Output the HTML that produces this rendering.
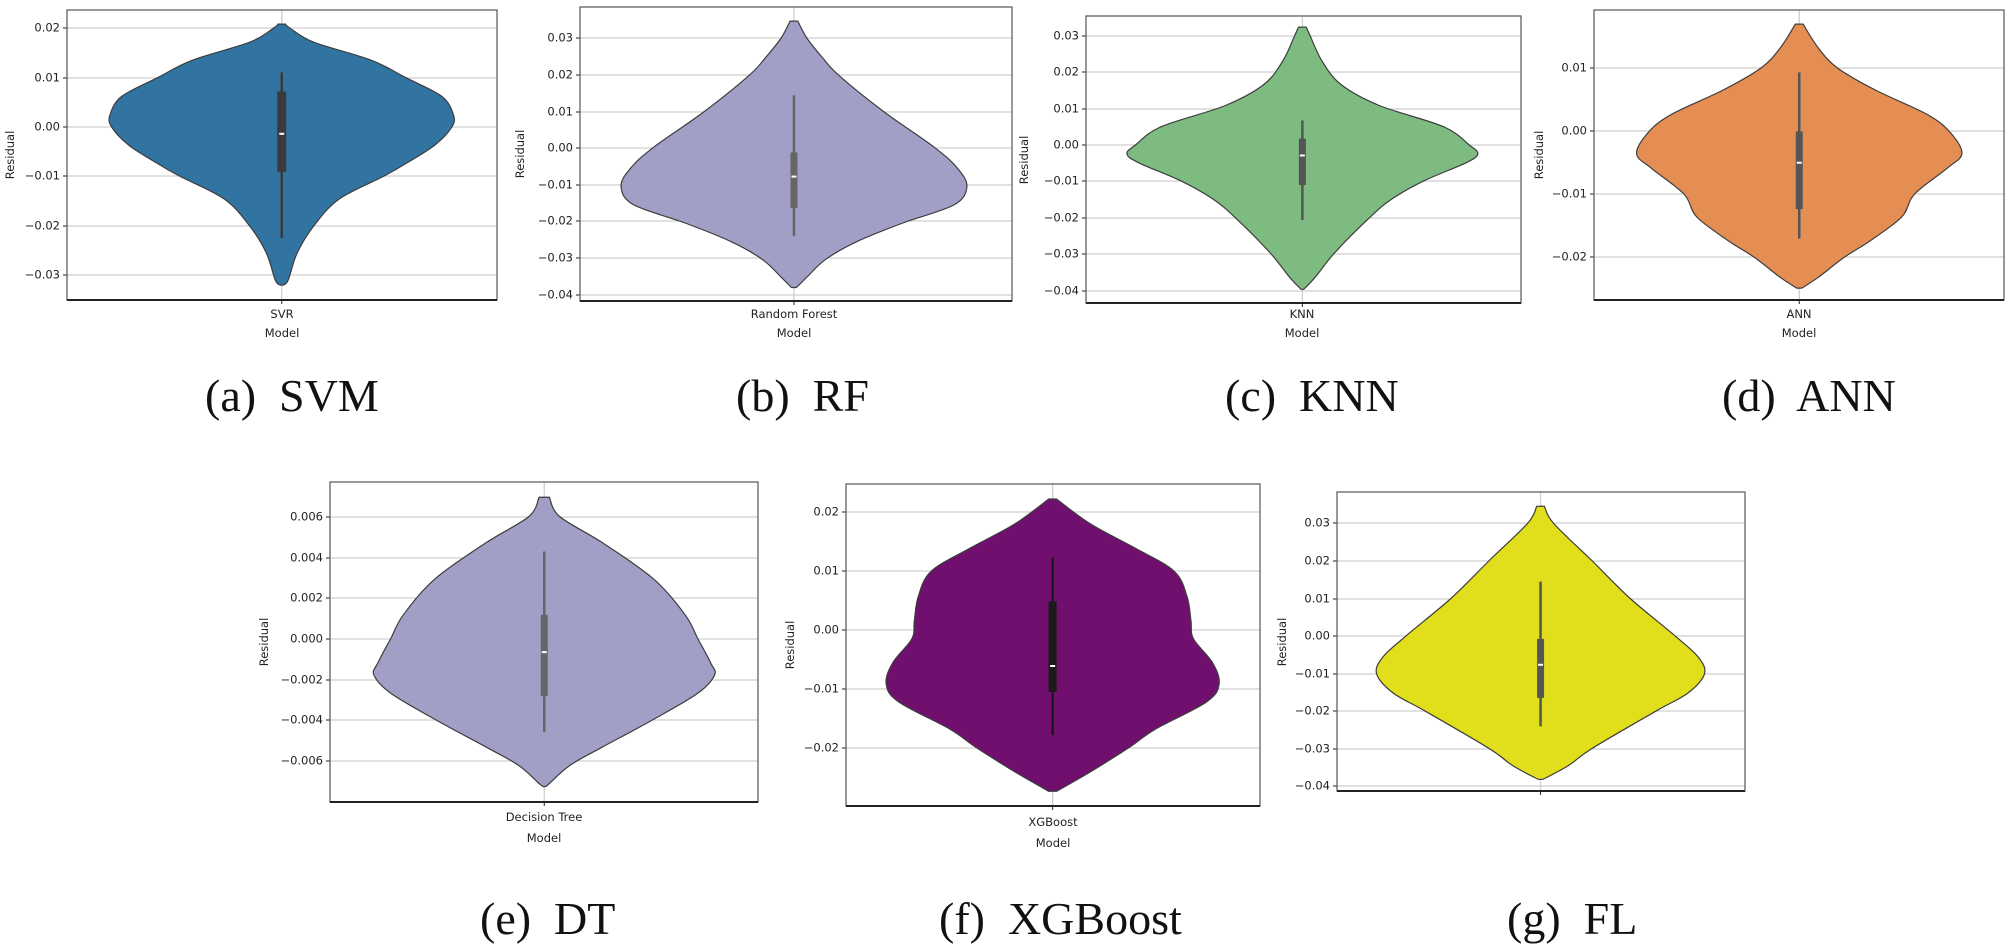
<!DOCTYPE html>
<html><head><meta charset="utf-8">
<style>
html,body{margin:0;padding:0;background:#fff;}
svg{display:block;}
.t{font-family:"DejaVu Sans","Liberation Sans",sans-serif;font-size:11.5px;fill:#222;}
.cap{font-family:"Liberation Serif",serif;font-size:46px;fill:#111;}
</style></head>
<body>
<svg id="s" width="2008" height="945" viewBox="0 0 2008 945" xmlns="http://www.w3.org/2000/svg">
<g id="g"></g>
<g class="t" text-anchor="end" dominant-baseline="middle">
<text x="60" y="28">0.02</text><text x="60" y="78">0.01</text><text x="60" y="127">0.00</text><text x="60" y="176">−0.01</text><text x="60" y="226">−0.02</text><text x="60" y="275">−0.03</text>
<text x="573" y="38">0.03</text><text x="573" y="75">0.02</text><text x="573" y="112">0.01</text><text x="573" y="148">0.00</text><text x="573" y="185">−0.01</text><text x="573" y="221">−0.02</text><text x="573" y="258">−0.03</text><text x="573" y="295">−0.04</text>
<text x="1079" y="36">0.03</text><text x="1079" y="72">0.02</text><text x="1079" y="109">0.01</text><text x="1079" y="145">0.00</text><text x="1079" y="181">−0.01</text><text x="1079" y="218">−0.02</text><text x="1079" y="254">−0.03</text><text x="1079" y="291">−0.04</text>
<text x="1587" y="68">0.01</text><text x="1587" y="131">0.00</text><text x="1587" y="194">−0.01</text><text x="1587" y="257">−0.02</text>
<text x="323" y="517">0.006</text><text x="323" y="558">0.004</text><text x="323" y="598">0.002</text><text x="323" y="639">0.000</text><text x="323" y="680">−0.002</text><text x="323" y="720">−0.004</text><text x="323" y="761">−0.006</text>
<text x="839" y="512">0.02</text><text x="839" y="571">0.01</text><text x="839" y="630">0.00</text><text x="839" y="689">−0.01</text><text x="839" y="748">−0.02</text>
<text x="1330" y="523">0.03</text><text x="1330" y="561">0.02</text><text x="1330" y="599">0.01</text><text x="1330" y="636">0.00</text><text x="1330" y="674">−0.01</text><text x="1330" y="711">−0.02</text><text x="1330" y="749">−0.03</text><text x="1330" y="786">−0.04</text>
</g>
<g class="t" text-anchor="middle">
<text transform="translate(14,155) rotate(-90)">Residual</text>
<text transform="translate(524,154) rotate(-90)">Residual</text>
<text transform="translate(1028,160) rotate(-90)">Residual</text>
<text transform="translate(1543,155) rotate(-90)">Residual</text>
<text transform="translate(268,642) rotate(-90)">Residual</text>
<text transform="translate(794,645) rotate(-90)">Residual</text>
<text transform="translate(1286,642) rotate(-90)">Residual</text>
<text x="282" y="318">SVR</text><text x="282" y="337">Model</text>
<text x="794" y="318">Random Forest</text><text x="794" y="337">Model</text>
<text x="1302" y="318">KNN</text><text x="1302" y="337">Model</text>
<text x="1799" y="318">ANN</text><text x="1799" y="337">Model</text>
<text x="544" y="821">Decision Tree</text><text x="544" y="842">Model</text>
<text x="1053" y="826">XGBoost</text><text x="1053" y="847">Model</text>
</g>
<g class="cap">
<text x="205" y="411" xml:space="preserve">(a)  SVM</text>
<text x="736" y="411" xml:space="preserve">(b)  RF</text>
<text x="1225" y="411" xml:space="preserve">(c)  KNN</text>
<text x="1722" y="411" xml:space="preserve">(d)  ANN</text>
<text x="480" y="934" xml:space="preserve">(e)  DT</text>
<text x="939" y="934" xml:space="preserve">(f)  XGBoost</text>
<text x="1507" y="934" xml:space="preserve">(g)  FL</text>
</g>
</svg>
<script>
(function(){
var SX=1.2806,SY=0.6027,NS="http://www.w3.org/2000/svg",g=document.getElementById("g");
function el(n,a){var e=document.createElementNS(NS,n);for(var k in a)e.setAttribute(k,a[k]);g.appendChild(e);return e;}
var P=[
{box:[67,497,10,300],ticks:[28,78,127,176,226,275],cx:220,col:"#3274a1",bc:"#3a3a3a",bw:9,
 pts:[[40,3],[46,6],[70,25],[100,70],[129,97],[160,125],[190,134],[210,133],[240,120],[270,98],[292,80],[330,45],[375,25],[420,12],[465,5],[473,1]],
 wh:[120,395],bx:[152,285],med:222},
{box:[580,1012,7,301],ticks:[38,75,112,148,185,221,258,295],cx:620,col:"#a19fc5",bc:"#666",bw:7,
 pts:[[35,3],[63,10],[95,22],[125,35],[185,70],[245,110],[280,128],[310,135],[340,125],[370,85],[400,50],[430,25],[460,10],[477,2]],
 wh:[158,392],bx:[253,345],med:293},
{box:[1086,1521,16,303],ticks:[36,72,109,145,181,218,254,291],cx:1017,col:"#7dbb80",bc:"#555",bw:7,
 pts:[[45,3],[59,6],[100,15],[140,30],[175,60],[210,110],[240,130],[255,137],[270,128],[300,95],[330,70],[362,52],[420,25],[460,10],[480,1]],
 wh:[200,365],bx:[230,307],med:258},
{box:[1594,2004,10,300],ticks:[68,131,194,257],cx:1405,col:"#e58e53",bc:"#555",bw:7,
 pts:[[40,3],[80,15],[113,30],[150,60],[190,100],[220,118],[255,127],[280,115],[322,90],[360,80],[400,55],[427,35],[460,15],[478,2]],
 wh:[120,396],bx:[218,347],med:270},
{box:[330,758,482,802],ticks:[517,558,598,639,680,720,761],cx:425,col:"#a19fc5",bc:"#666",bw:7,
 pts:[[825,4],[857,12],[900,45],[960,85],[1020,110],[1060,120],[1100,130],[1120,133],[1150,120],[1194,85],[1240,45],[1270,20],[1300,4],[1305,1]],
 wh:[915,1215],bx:[1020,1155],med:1082},
{box:[846,1260,484,806],ticks:[512,571,630,689,748],cx:822,col:"#700f6e",bc:"#1a1a1a",bw:8,
 pts:[[828,3],[870,30],[910,65],[948,95],[990,105],[1030,108],[1060,110],[1100,125],[1135,130],[1165,120],[1210,80],[1240,60],[1280,30],[1313,3]],
 wh:[925,1220],bx:[998,1148],med:1105},
{box:[1337,1745,492,791],ticks:[523,561,599,636,674,711,749,786],cx:1203,col:"#e1df1c",bc:"#555",bw:7,
 pts:[[840,3],[868,10],[930,40],[993,70],[1055,105],[1090,123],[1118,128],[1150,115],[1180,90],[1242,40],[1270,22],[1293,2]],
 wh:[965,1205],bx:[1060,1158],med:1103}
];
function spline(pts){
 var d="M"+pts[0][0]+","+pts[0][1];
 for(var i=0;i<pts.length-1;i++){
  var p0=pts[i-1]||pts[i],p1=pts[i],p2=pts[i+1],p3=pts[i+2]||p2;
  var c1=[p1[0]+(p2[0]-p0[0])/6,p1[1]+(p2[1]-p0[1])/6],c2=[p2[0]-(p3[0]-p1[0])/6,p2[1]-(p3[1]-p1[1])/6];
  d+=" C"+c1[0].toFixed(1)+","+c1[1].toFixed(1)+" "+c2[0].toFixed(1)+","+c2[1].toFixed(1)+" "+p2[0].toFixed(1)+","+p2[1].toFixed(1);
 }
 return d;
}
P.forEach(function(p){
 var b=p.box,cx=p.cx*SX;
 el("rect",{x:b[0],y:b[2],width:b[1]-b[0],height:b[3]-b[2],fill:"#fff"});
 p.ticks.forEach(function(t){el("line",{x1:b[0],x2:b[1],y1:t,y2:t,stroke:"#cfcfcf","stroke-width":1.3});
  el("line",{x1:b[0]-4,x2:b[0],y1:t,y2:t,stroke:"#222","stroke-width":1});});
 el("line",{x1:cx,x2:cx,y1:b[2],y2:b[3],stroke:"#cfcfcf","stroke-width":1.3});
 var R=p.pts.map(function(q){return [cx+q[1]*SX,q[0]*SY];});
 var L=p.pts.slice().reverse().map(function(q){return [cx-q[1]*SX,q[0]*SY];});
 var d=spline(R)+" L"+L[0][0].toFixed(1)+","+L[0][1].toFixed(1)+" "+spline(L).slice(1).replace(/^[^C]*/,"")+" Z";
 el("path",{d:d,fill:p.col,stroke:"#3d3d3d","stroke-width":1.2});
 el("line",{x1:cx,x2:cx,y1:p.wh[0]*SY,y2:p.wh[1]*SY,stroke:p.bc,"stroke-width":2.5});
 el("rect",{x:cx-p.bw/2,y:p.bx[0]*SY,width:p.bw,height:(p.bx[1]-p.bx[0])*SY,fill:p.bc});
 el("line",{x1:cx-2.5,x2:cx+2.5,y1:p.med*SY,y2:p.med*SY,stroke:"#fff","stroke-width":2});
 el("rect",{x:b[0],y:b[2],width:b[1]-b[0],height:b[3]-b[2],fill:"none",stroke:"#555","stroke-width":1.2});
 el("line",{x1:b[0],x2:b[1],y1:b[3],y2:b[3],stroke:"#222","stroke-width":2});
 el("line",{x1:cx,x2:cx,y1:b[3],y2:b[3]+4,stroke:"#222","stroke-width":1});
});
})();
</script>
</body></html>
